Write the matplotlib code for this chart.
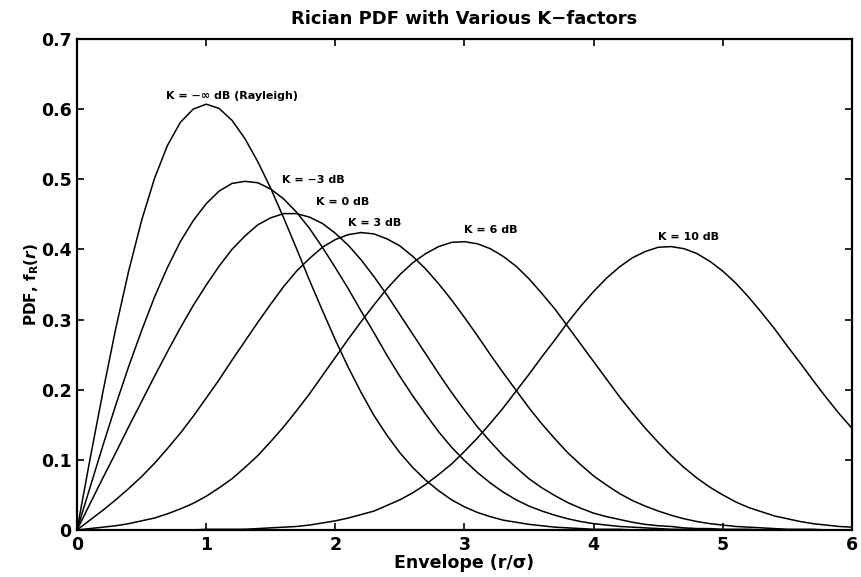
import numpy as np
import matplotlib
matplotlib.use('Agg')
import matplotlib.pyplot as plt

# envelope r/sigma, 0 to 6 in steps of 0.1
r = np.round(np.arange(0, 6.01, 0.1), 1)

# PDF values
k_rayleigh = [0.000, 0.100, 0.196, 0.287, 0.369, 0.441, 0.501, 0.548, 0.581, 0.600,
              0.607, 0.601, 0.584, 0.558, 0.525, 0.487, 0.445, 0.401, 0.356, 0.313,
              0.271, 0.232, 0.196, 0.163, 0.135, 0.110, 0.089, 0.071, 0.056, 0.043,
              0.033, 0.025, 0.019, 0.014, 0.011, 0.008, 0.006, 0.004, 0.003, 0.002,
              0.001, 0.001, 0.001, 0.000, 0.000, 0.000, 0.000, 0.000, 0.000, 0.000,
              0.000, 0.000, 0.000, 0.000, 0.000, 0.000, 0.000, 0.000, 0.000, 0.000, 0.000]
k_m3 = [0.000, 0.060, 0.120, 0.178, 0.233, 0.284, 0.332, 0.374, 0.411, 0.441,
        0.465, 0.483, 0.494, 0.497, 0.495, 0.486, 0.472, 0.453, 0.430, 0.403,
        0.374, 0.344, 0.312, 0.281, 0.249, 0.219, 0.191, 0.165, 0.140, 0.118,
        0.099, 0.082, 0.067, 0.054, 0.043, 0.034, 0.027, 0.021, 0.016, 0.012,
        0.009, 0.007, 0.005, 0.004, 0.003, 0.002, 0.001, 0.001, 0.001, 0.000,
        0.000, 0.000, 0.000, 0.000, 0.000, 0.000, 0.000, 0.000, 0.000, 0.000, 0.000]
k_0 = [0.000, 0.037, 0.074, 0.110, 0.147, 0.183, 0.219, 0.254, 0.288, 0.320,
       0.349, 0.376, 0.400, 0.419, 0.435, 0.445, 0.451, 0.451, 0.446, 0.437,
       0.423, 0.406, 0.385, 0.361, 0.335, 0.307, 0.279, 0.251, 0.223, 0.196,
       0.171, 0.147, 0.126, 0.106, 0.089, 0.073, 0.060, 0.049, 0.039, 0.031,
       0.024, 0.019, 0.015, 0.011, 0.008, 0.006, 0.005, 0.003, 0.002, 0.002,
       0.001, 0.001, 0.001, 0.000, 0.000, 0.000, 0.000, 0.000, 0.000, 0.000, 0.000]
k_3 = [0.000, 0.014, 0.028, 0.043, 0.059, 0.076, 0.095, 0.116, 0.138, 0.162,
       0.188, 0.214, 0.242, 0.269, 0.296, 0.322, 0.347, 0.369, 0.387, 0.403,
       0.414, 0.421, 0.424, 0.422, 0.415, 0.405, 0.390, 0.372, 0.351, 0.328,
       0.303, 0.277, 0.250, 0.224, 0.199, 0.174, 0.151, 0.130, 0.110, 0.093,
       0.077, 0.064, 0.052, 0.042, 0.034, 0.027, 0.021, 0.016, 0.012, 0.009,
       0.007, 0.005, 0.004, 0.003, 0.002, 0.001, 0.001, 0.001, 0.000, 0.000, 0.000]
k_6 = [0.000, 0.002, 0.004, 0.006, 0.009, 0.013, 0.017, 0.023, 0.030, 0.038,
       0.048, 0.060, 0.073, 0.089, 0.106, 0.126, 0.147, 0.170, 0.194, 0.220,
       0.246, 0.272, 0.297, 0.321, 0.344, 0.364, 0.381, 0.394, 0.404, 0.410,
       0.411, 0.408, 0.401, 0.390, 0.376, 0.358, 0.337, 0.315, 0.290, 0.265,
       0.240, 0.215, 0.190, 0.167, 0.145, 0.125, 0.106, 0.089, 0.074, 0.061,
       0.050, 0.040, 0.032, 0.026, 0.020, 0.016, 0.012, 0.009, 0.007, 0.005, 0.004]
k_10 = [0.000, 0.000, 0.000, 0.000, 0.000, 0.000, 0.000, 0.000, 0.000, 0.000,
        0.001, 0.001, 0.001, 0.001, 0.002, 0.003, 0.004, 0.005, 0.007, 0.010,
        0.013, 0.017, 0.022, 0.027, 0.035, 0.043, 0.053, 0.065, 0.079, 0.094,
        0.112, 0.131, 0.152, 0.174, 0.198, 0.222, 0.247, 0.271, 0.296, 0.319,
        0.340, 0.359, 0.375, 0.388, 0.397, 0.403, 0.404, 0.401, 0.394, 0.383,
        0.369, 0.352, 0.332, 0.310, 0.287, 0.262, 0.238, 0.213, 0.189, 0.166, 0.145]

curves = [k_rayleigh, k_m3, k_0, k_3, k_6, k_10]
curve_labels = ['K = \u2212\u221e dB (Rayleigh)', 'K = \u22123 dB', 'K = 0 dB',
                'K = 3 dB', 'K = 6 dB', 'K = 10 dB']
label_x = [0.69, 1.59, 1.85, 2.10, 3.00, 4.50]
label_y = [0.618, 0.499, 0.468, 0.438, 0.427, 0.418]

yticks = [0, 0.1, 0.2, 0.3, 0.4, 0.5, 0.6, 0.7]
ytick_labels = ['0', '0.1', '0.2', '0.3', '0.4', '0.5', '0.6', '0.7']
xticks = [0, 1, 2, 3, 4, 5, 6]

plt.rcParams['font.family'] = 'DejaVu Sans'
plt.rcParams['font.weight'] = 'bold'
plt.rcParams['axes.titleweight'] = 'bold'
plt.rcParams['axes.labelweight'] = 'bold'
plt.rcParams['mathtext.default'] = 'bf'

fig = plt.figure(figsize=(8.61, 5.77), dpi=100)
ax = fig.add_axes([0.0894, 0.0815, 0.9001, 0.851])

for y in curves:
    ax.plot(r, y, color='black', lw=1.1)

for txt, x, y in zip(curve_labels, label_x, label_y):
    ax.text(x, y, txt, fontsize=8, fontweight='bold', ha='left', va='center')

ax.set_xlim(0, 6)
ax.set_ylim(0, 0.7)
ax.set_xticks(xticks)
ax.set_yticks(yticks)
ax.set_yticklabels(ytick_labels)
ax.tick_params(direction='in', top=True, right=True, length=5, width=1.2,
               labelsize=12.5, pad=4)
for s in ax.spines.values():
    s.set_linewidth(1.6)

ax.set_title('Rician PDF with Various K\u2212factors', fontsize=13, pad=11)
ax.set_xlabel('Envelope (r/\u03c3)', fontsize=12.5, labelpad=0)
ax.set_ylabel(r'PDF, f$_R$($\it{r}$)', fontsize=11, labelpad=0)

fig.savefig('out.png')
